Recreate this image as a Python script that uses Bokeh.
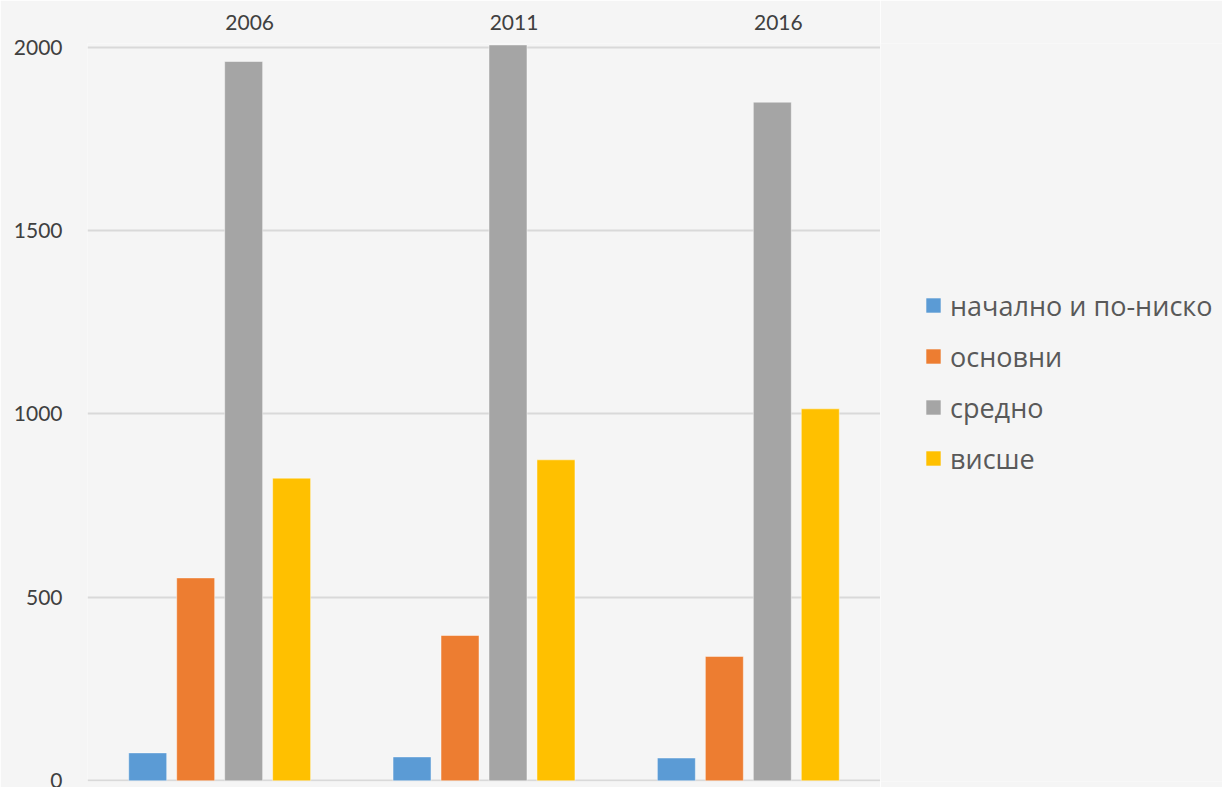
from bokeh.plotting import figure
from bokeh.models import (ColumnDataSource, Range1d, LinearAxis, FixedTicker,
                          Legend, LegendItem)
from bokeh.layouts import row
from bokeh.transform import dodge
from bokeh.embed import file_html
from bokeh.resources import INLINE

years = ["2006", "2011", "2016"]
series = ["начално и по-ниско", "основни", "средно", "висше"]
primary = [76, 65, 62]
basic = [553, 396, 339]
secondary = [1961, 2006, 1850]
higher = [825, 875, 1014]
colors = ["#5b9bd5", "#ed7d31", "#a5a5a5", "#ffc000"]
y_ticks = [0, 500, 1000, 1500, 2000]

src = ColumnDataSource(dict(
    x=[i + 0.5 for i in range(len(years))],
    s0=primary, s1=basic, s2=secondary, s3=higher,
))
cols = ["s0", "s1", "s2", "s3"]

BG = "#f5f5f5"
p = figure(width=880, height=787, output_backend="svg", toolbar_location=None,
           x_range=Range1d(0, 3), y_range=Range1d(-2, 2010),
           min_border_left=87, min_border_right=0, min_border_top=43,
           min_border_bottom=6, background_fill_color=BG, border_fill_color=BG,
           outline_line_color=None)

pitch = 0.1815
width = 0.1437
for k, col in enumerate(cols):
    p.vbar(x=dodge("x", (k - 1.5) * pitch, range=p.x_range), top=col, bottom=0,
           width=width, source=src, fill_color=colors[k],
           line_color="white", line_alpha=0.45, line_width=1)

# axes
p.xaxis.visible = False
p.xgrid.visible = False
yax = p.yaxis[0]
yax.ticker = FixedTicker(ticks=y_ticks)
yax.axis_line_color = None
yax.major_tick_line_color = None
yax.minor_tick_line_color = None
yax.major_label_standoff = 19
yax.major_label_text_font = "Lato"
yax.major_label_text_font_size = "21px"
yax.major_label_text_color = "#404040"
p.ygrid.ticker = FixedTicker(ticks=y_ticks)
p.ygrid.grid_line_color = "#d9d9d9"
p.ygrid.grid_line_width = 2

p.extra_x_ranges = {"top": Range1d(-0.1135, 2.8865)}
top = LinearAxis(x_range_name="top",
                 ticker=FixedTicker(ticks=[i + 0.5 for i in range(len(years))]),
                 major_label_overrides={i + 0.5: y for i, y in enumerate(years)})
top.axis_line_color = None
top.major_tick_line_color = None
top.minor_tick_line_color = None
top.major_label_standoff = 8
top.major_label_text_font = "Lato"
top.major_label_text_font_size = "21px"
top.major_label_text_color = "#404040"
p.add_layout(top, "above")

# legend panel (same series, zero-width and out of view; only the legend shows)
q = figure(width=342, height=787, output_backend="svg", toolbar_location=None,
           x_range=Range1d(0, 3), y_range=Range1d(50000, 50001),
           min_border_left=0, min_border_right=0, min_border_top=0,
           min_border_bottom=0, background_fill_color=BG, border_fill_color=BG,
           outline_line_color=None)
q.axis.visible = False
q.grid.visible = False
legend_renderers = [q.vbar(x="x", top=col, bottom=col, width=0, source=src,
                           fill_color=c, line_color=None)
                    for col, c in zip(cols, colors)]
legend = Legend(items=[LegendItem(label=s, renderers=[r])
                       for s, r in zip(series, legend_renderers)],
                location=(44, 304), orientation="vertical")
legend.background_fill_alpha = 0
legend.border_line_color = None
legend.padding = 0
legend.margin = 0
legend.glyph_width = 18
legend.glyph_height = 18
legend.label_height = 38
legend.spacing = 13
legend.label_standoff = 8
legend.label_text_font = "Open Sans"
legend.label_text_font_size = "27px"
legend.label_text_color = "#595959"
q.add_layout(legend, "center")

layout = row(p, q)
open("out.html", "w").write(file_html(layout, INLINE))
